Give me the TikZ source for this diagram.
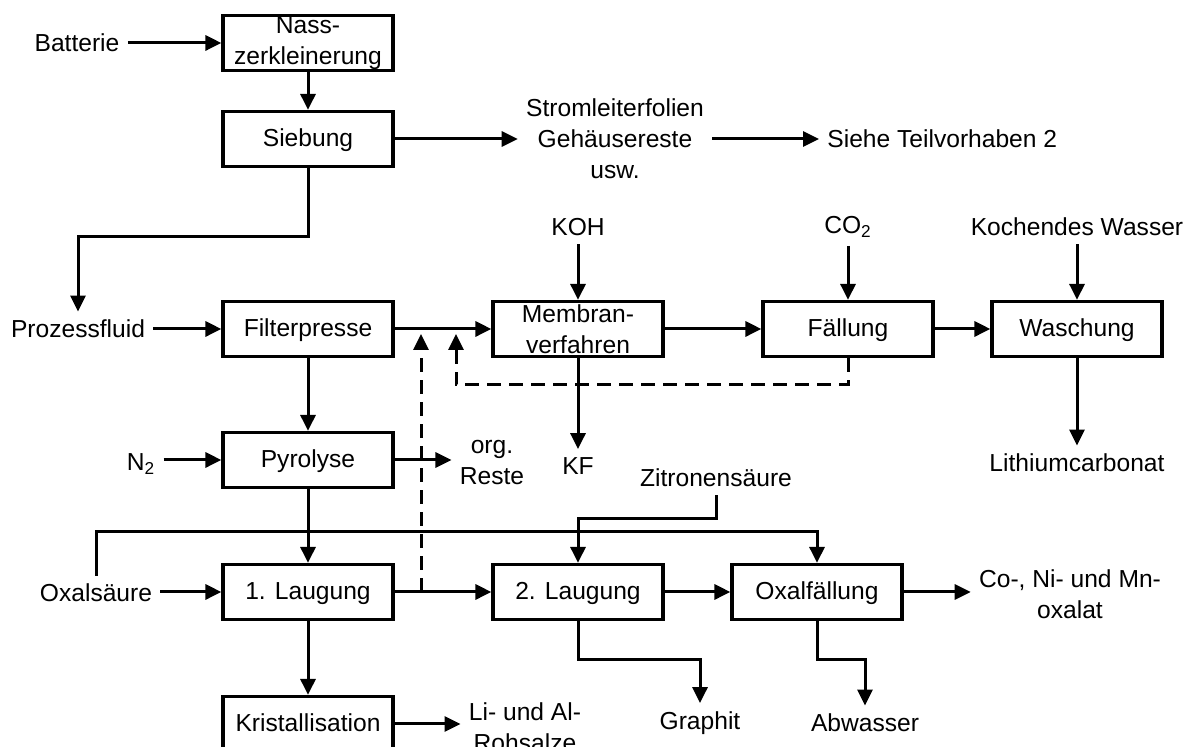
\documentclass[tikz,border=0pt]{standalone}
\usepackage{fontspec}
\setmainfont{Liberation Sans}
\usetikzlibrary{arrows.meta,calc}
\begin{document}
\begin{tikzpicture}[x=0.5pt,y=-0.5pt,
  font=\fontsize{12.3pt}{15.5pt}\selectfont,
  frame/.style={draw,line width=1.6pt,minimum width=85pt,minimum height=27.5pt,inner sep=0pt},
  box/.style={frame,align=center},
  proc/.style={frame,text height=0.72em,text depth=-0.06em},
  lbl/.style={inner sep=4pt,align=center},
  arr/.style={line width=1.5pt,-{Triangle[length=8pt,width=7.5pt]}},
  dsh/.style={arr,dash pattern=on 7pt off 4pt}]
\useasboundingbox (0,0) rectangle (1196,747);
% process boxes
\node[box] (nass) at (308,43) {Nass-\\zerkleinerung};
\node[proc] (sieb) at (308,139) {Siebung};
\node[proc] (filt) at (308,329) {Filterpresse};
\node[proc] (pyro) at (308,460) {Pyrolyse};
\node[proc] (lau1) at (308,592) {1. Laugung};
\node[proc] (krist) at (308,724) {Kristallisation};
\node[box] (memb) at (578,329) {Membran-\\verfahren};
\node[proc] (fall) at (848,329) {Fällung};
\node[proc] (wasch) at (1077,329) {Waschung};
\node[proc] (lau2) at (578,592) {2. Laugung};
\node[proc] (oxal) at (817,592) {Oxalfällung};
% labels
\node[lbl] (bat) at (77,43) {Batterie};
\node[lbl] (strom) at (615,139) {Stromleiterfolien\\Gehäusereste\\usw.};
\node[lbl,anchor=west] (siehe) at (819,139) {Siehe Teilvorhaben 2};
\node[lbl] (proz) at (78,329) {Prozessfluid};
\node[lbl] (koh) at (578,227) {KOH};
\node[lbl] (co2) at (848,227) {CO\textsubscript{2}};
\node[lbl] (kw) at (1077,227) {Kochendes Wasser};
\node[lbl] (kf) at (578,466) {KF};
\node[lbl] (lith) at (1077,463) {Lithiumcarbonat};
\node[lbl] (n2) at (141,464) {N\textsubscript{2}};
\node[lbl] (org) at (492,463) {org.\\Reste};
\node[lbl] (zit) at (716,478) {Zitronensäure};
\node[lbl] (oxs) at (96,593) {Oxalsäure};
\node[lbl] (cona) at (1070,594) {Co-, Ni- und Mn-\\oxalat};
\node[lbl] (graph) at (700,723) {Graphit};
\node[lbl] (abw) at (865,723) {Abwasser};
\node[lbl] (li) at (525,727) {Li- und Al-\\Rohsalze};
\coordinate (ja) at (421,334);
\coordinate (jb) at (456,334);
% connectors
\draw[arr] (nass.west -| bat.east) -- (nass.west);
\draw[arr] (nass.south) -- (sieb.north);
\draw[arr] (sieb.east) -- (strom.west);
\draw[arr] (strom.east) -- (siehe.west);
\draw[arr] (sieb.south) -- (sieb.south |- 0,237) -| (proz.north);
\draw[arr] (filt.west -| proz.east) -- (filt.west);
\draw[arr] (filt.east) -- (memb.west);
\draw[arr] (koh.south) -- (memb.north);
\draw[arr] (memb.south) -- (kf.north);
\draw[arr] (memb.east) -- (fall.west);
\draw[arr] (co2.south) -- (fall.north);
\draw[arr] (fall.east) -- (wasch.west);
\draw[arr] (kw.south) -- (wasch.north);
\draw[arr] (wasch.south) -- (lith.north);
\draw[arr] (filt.south) -- (pyro.north);
\draw[arr] (pyro.west -| n2.east) -- (pyro.west);
\draw[arr] (pyro.east) -- (org.west |- pyro.east);
\draw[arr] (pyro.south) -- (lau1.north);
\draw[arr] (oxs.north) -- (oxs.north |- 0,532) -| (oxal.north);
\draw[arr] (zit.south) -- (zit.south |- 0,519) -| (lau2.north);
\draw[arr] (lau1.west -| oxs.east) -- (lau1.west);
\draw[arr] (lau1.east) -- (lau2.west);
\draw[arr] (lau2.east) -- (oxal.west);
\draw[arr] (oxal.east) -- (oxal.east -| cona.west);
\draw[arr] (lau2.south) -- (lau2.south |- 0,660) -| (graph.north);
\draw[arr] (oxal.south) -- (oxal.south |- 0,660) -| (abw.north);
\draw[arr] (lau1.south) -- (krist.north);
\draw[arr] (krist.east) -- (krist.east -| li.west);
\draw[dsh] (lau1.east -| ja) -- (ja);
\draw[dsh] (fall.south) -- (fall.south |- 0,385) -| (jb);
\end{tikzpicture}
\end{document}
